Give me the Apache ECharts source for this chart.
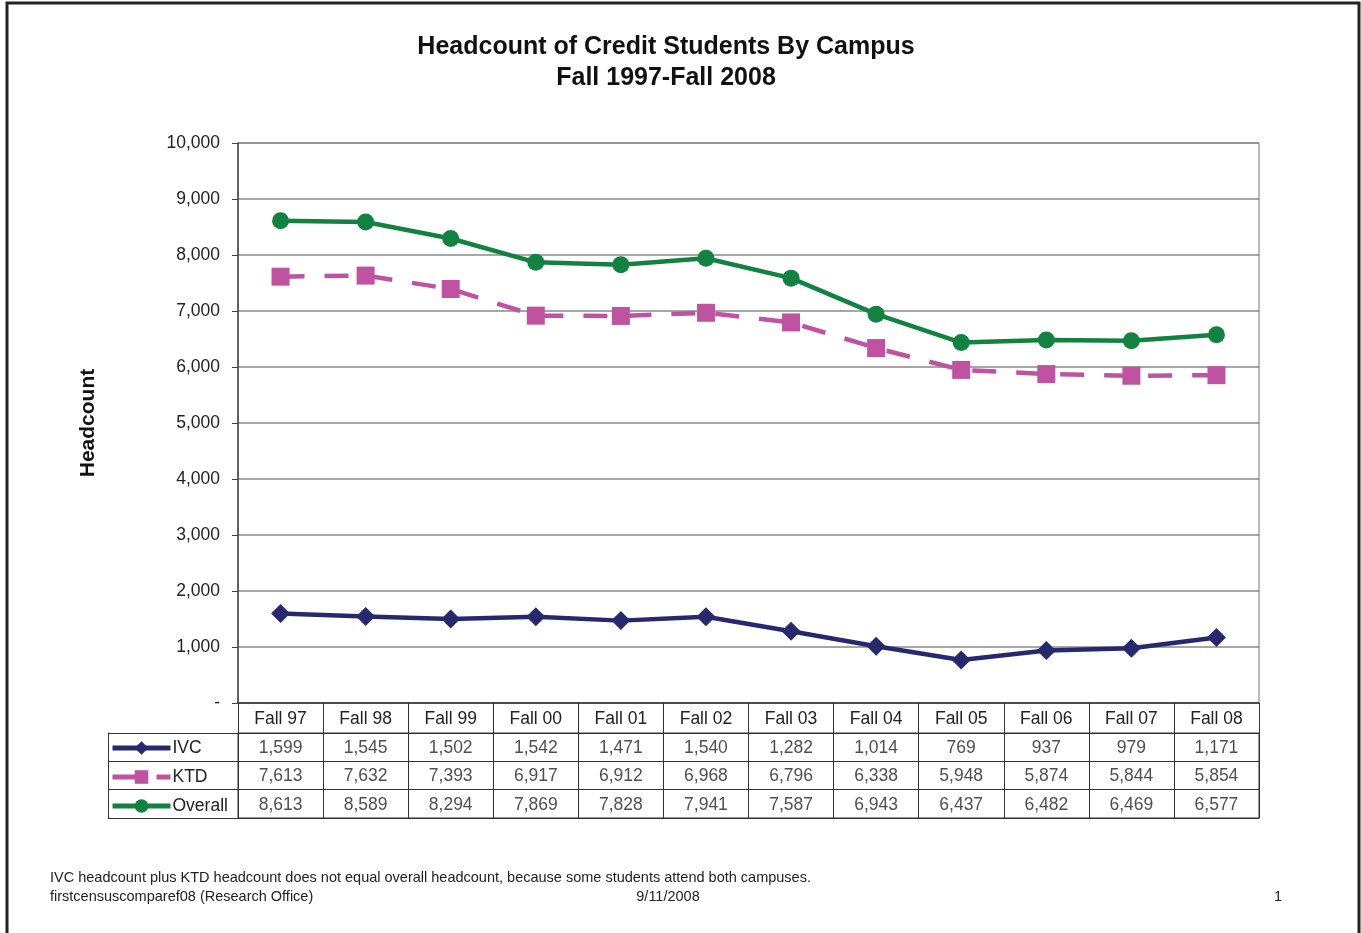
<!DOCTYPE html>
<html>
<head>
<meta charset="utf-8">
<script src="https://cdn.jsdelivr.net/npm/echarts@6/dist/echarts.min.js"></script>
<style>
html,body{margin:0;padding:0;background:#fff;}
#chart{width:1361px;height:933px;}
</style>
</head>
<body>
<div id="chart"></div>
<script>
const categories = ['Fall 97','Fall 98','Fall 99','Fall 00','Fall 01','Fall 02','Fall 03','Fall 04','Fall 05','Fall 06','Fall 07','Fall 08'];
const ivc = [1599,1545,1502,1542,1471,1540,1282,1014,769,937,979,1171];
const ktd = [7613,7632,7393,6917,6912,6968,6796,6338,5948,5874,5844,5854];
const overall = [8613,8589,8294,7869,7828,7941,7587,6943,6437,6482,6469,6577];
const rowNames = ['IVC','KTD','Overall'];
const yTicks = {min:0, max:10000, interval:1000};

const FONT = 'Liberation Sans, Arial, sans-serif';
const C_IVC = '#28286f', C_KTD = '#bf53a2', C_OV = '#11823f';
const FS = 17.5;

const tableData = [];
[ivc, ktd, overall].forEach((arr, r) => arr.forEach((v, i) => tableData.push([i, r, v])));

const chart = echarts.init(document.getElementById('chart'));
chart.setOption({
  animation: false,
  backgroundColor: '#fff',
  textStyle: {fontFamily: FONT},
  graphic: [
    {type:'rect', shape:{x:7,y:3,width:1352,height:945}, style:{fill:'none', stroke:'#222', lineWidth:3}, silent:true},
    {type:'text', x:666, y:32, style:{text:'Headcount of Credit Students By Campus\nFall 1997-Fall 2008', align:'center', font:'bold 25px ' + FONT, lineHeight:31, fill:'#111'}},
    {type:'text', x:50, y:870, style:{text:'IVC headcount plus KTD headcount does not equal overall headcount, because some students attend both campuses.', font:'14.5px ' + FONT, fill:'#222'}},
    {type:'text', x:50, y:889, style:{text:'firstcensuscomparef08 (Research Office)', font:'14.5px ' + FONT, fill:'#222'}},
    {type:'text', x:668, y:889, style:{text:'9/11/2008', align:'center', font:'14.5px ' + FONT, fill:'#222'}},
    {type:'text', x:1278, y:889, style:{text:'1', align:'center', font:'14.5px ' + FONT, fill:'#222'}}
  ],
  legend: {
    data: rowNames,
    orient: 'vertical',
    left: 105, top: 734,
    itemWidth: 58, itemHeight: 17, itemGap: 11,
    lineStyle: {width: 5},
    textStyle: {fontSize: FS, lineHeight: 17, color: '#222', fontFamily: FONT, padding: [0, 0, 0, -3]},
    selectedMode: false
  },
  grid: [
    {left: 238, right: 102, top: 143, height: 560, show: true, borderColor: '#777', borderWidth: 1},
    {left: 238, right: 102, top: 733, height: 85, show: true, borderColor: '#333', borderWidth: 1}
  ],
  xAxis: [
    {
      type: 'category', gridIndex: 0, data: categories, boundaryGap: true,
      axisLine: {show: true, lineStyle: {color: '#333', width: 1.5}},
      axisTick: {show: true, length: 30, lineStyle: {color: '#333', width: 1}},
      axisLabel: {fontSize: FS, color: '#222', margin: 7, fontFamily: FONT},
      splitLine: {show: false}
    },
    {
      type: 'category', gridIndex: 1, data: categories, boundaryGap: true,
      axisLine: {show: true, lineStyle: {color: '#333'}},
      axisTick: {show: false},
      axisLabel: {show: false},
      splitLine: {show: true, lineStyle: {color: '#333', width: 1}}
    }
  ],
  yAxis: [
    {
      type: 'value', gridIndex: 0, min: yTicks.min, max: yTicks.max, interval: yTicks.interval,
      name: 'Headcount', nameLocation: 'middle', nameGap: 139, nameRotate: 90,
      nameTextStyle: {fontSize: 21, fontWeight: 'bold', color: '#111', fontFamily: FONT},
      axisLine: {show: true, lineStyle: {color: '#444', width: 1.5}},
      axisTick: {show: true, length: 6, lineStyle: {color: '#444'}},
      axisLabel: {fontSize: FS, color: '#222', margin: 18, fontFamily: FONT,
        formatter: v => v === 0 ? '-' : v.toLocaleString('en-US')},
      splitLine: {show: true, lineStyle: {color: '#888', width: 1.5}}
    },
    {
      type: 'category', gridIndex: 1, data: rowNames, inverse: true, boundaryGap: true,
      axisLine: {show: false},
      axisTick: {show: true, length: 130, lineStyle: {color: '#333'}},
      axisLabel: {show: false},
      splitLine: {show: true, lineStyle: {color: '#333', width: 1}}
    },
    {
      type: 'category', gridIndex: 1, data: rowNames, inverse: true, position: 'left', offset: 130,
      axisLine: {show: true, lineStyle: {color: '#333'}},
      axisTick: {show: false},
      axisLabel: {show: false},
      splitLine: {show: false}
    }
  ],
  series: [
    {
      name: 'IVC', type: 'line', xAxisIndex: 0, yAxisIndex: 0, data: ivc,
      color: C_IVC, symbol: 'diamond', symbolSize: 19,
      lineStyle: {width: 4.5, color: C_IVC}, itemStyle: {color: C_IVC}
    },
    {
      name: 'KTD', type: 'line', xAxisIndex: 0, yAxisIndex: 0, data: ktd,
      color: C_KTD, symbol: 'rect', symbolSize: 18,
      lineStyle: {width: 4.5, color: C_KTD, type: [24, 20]}, itemStyle: {color: C_KTD}
    },
    {
      name: 'Overall', type: 'line', xAxisIndex: 0, yAxisIndex: 0, data: overall,
      color: C_OV, symbol: 'circle', symbolSize: 17,
      lineStyle: {width: 4.5, color: C_OV}, itemStyle: {color: C_OV}
    },
    {
      name: 'table', type: 'scatter', xAxisIndex: 1, yAxisIndex: 1, data: tableData,
      symbolSize: 1, itemStyle: {color: 'rgba(0,0,0,0)'}, silent: true,
      label: {show: true, position: 'inside', fontSize: FS, color: '#222', fontFamily: FONT, offset: [0, 1],
        formatter: p => p.value[2].toLocaleString('en-US')}
    }
  ]
});
</script>
</body>
</html>
